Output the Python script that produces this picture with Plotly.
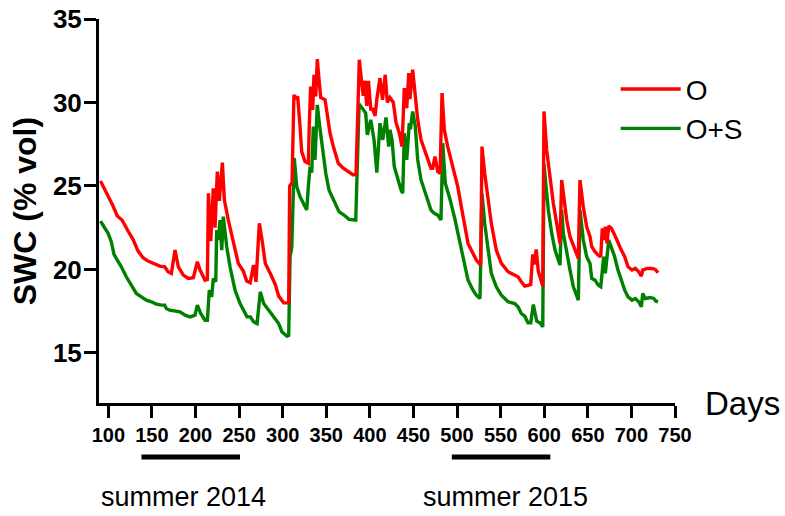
import plotly.graph_objects as go

# ---- data ----
o_days = [91, 94, 99.7, 105.4, 110.3, 115.7, 122.6, 128.3, 134.1, 139.8, 145.5, 151.3, 159, 164.7, 168.5, 172.3,
          174.5, 176.5, 180.3, 186, 191.8, 197.5, 202.1, 205.2, 210.9, 213.6, 214.8, 217.5, 220.4, 222.4, 225,
          227.3, 230.8, 233.1, 237.6, 243.4, 249.1, 254.8, 258.7, 262.7, 266.5, 269.4, 273.2, 276.3, 280.1, 285.8,
          291.5, 295.4, 301.2, 306.9, 308.0, 310.7, 312.9, 315.0, 317.2, 319.9, 321.8, 325.6, 329.4, 330.5, 332.1,
          334.4, 335.9, 337.9, 339.7, 341.7, 343.6, 348.6, 354.3, 358.1, 363.8, 369.5, 375.3, 381.0, 384.1, 385.6,
          387.9, 390.6, 392.5, 394.4, 396.4, 398.4, 401.0, 403.3, 406.0, 408.0, 411.6, 414.5, 417.6, 420.0, 423.0,
          426.9, 430.0, 433.8, 436.9, 439.5, 442.3, 444.6, 446.0, 449.1, 452.1, 454.9, 458.7, 462.5, 466.3, 470.1,
          472.1, 474.7, 477.8, 480.5, 482.8, 485.4, 489.3, 493.1, 496.9, 500.8, 504.9, 508.8, 512.6, 518.3, 522.1,
          527.1, 528.6, 531.7, 535.5, 539.3, 545.0, 550.8, 558.5, 566.1, 569.9, 573.7, 577.6, 581.4, 584.5, 586.8,
          588.3, 590.8, 593.2, 598.3, 599.7, 602.8, 606.6, 610.4, 614.3, 618.1, 620.0, 622.7, 625.8, 629.6, 635.3,
          639.1, 641.0, 644.8, 648.7, 652.5, 654.5, 658.2, 662.0, 664.8, 666.6, 668.2, 670.1, 672.0, 674.0, 677.0,
          680.8, 684.6, 688.4, 692.3, 696.1, 700.7, 704.5, 708.4, 711.4, 713.0, 717.9, 723.6, 727.4, 730.5]
o_swc = [25.3, 25.0, 24.4, 23.8, 23.2, 22.96, 22.3, 21.8, 21.1, 20.7, 20.5, 20.36, 20.2, 20.16, 19.86, 19.76,
         20.4, 21.16, 20.16, 19.66, 19.46, 19.5, 20.46, 19.96, 19.36, 19.4, 24.56, 21.7, 24.86, 22.5, 25.86,
         24.1, 26.4, 24.16, 22.96, 21.56, 20.36, 19.9, 19.3, 19.2, 20.26, 19.26, 22.76, 21.76, 20.36, 19.76,
         19.1, 18.4, 18.0, 18.0, 25.0, 25.2, 30.46, 30.2, 30.36, 28.56, 27.06, 26.46, 26.36, 28.66, 30.96,
         29.56, 31.66, 30.36, 32.6, 31.36, 30.3, 30.16, 28.16, 27.36, 26.36, 26.06, 25.86, 25.66, 25.7, 28.6,
         32.56, 31.2, 30.4, 31.3, 29.8, 31.3, 29.6, 29.6, 29.2, 30.2, 31.46, 30.16, 31.66, 30.0, 30.3,
         30.0, 28.8, 28.16, 27.36, 30.86, 29.66, 31.76, 30.2, 31.96, 30.56, 28.96, 27.76, 27.16, 26.56, 26.06,
         26.06, 26.76, 25.86, 25.76, 30.56, 28.36, 27.36, 26.56, 25.76, 24.96, 23.76, 22.56, 21.56, 20.96, 20.56,
         20.26, 27.36, 25.76, 24.16, 22.76, 21.16, 20.36, 19.86, 19.66, 19.56, 19.26, 19.0, 19.05, 19.1, 20.9,
         20.3, 21.2, 19.9, 19.0, 29.46, 27.16, 25.36, 23.96, 22.76, 21.56, 25.36, 24.16, 22.96, 21.96, 21.16,
         20.66, 25.36, 23.76, 22.56, 21.96, 21.36, 21.06, 20.86, 20.76, 22.46, 21.76, 22.56, 21.56, 22.6, 22.46,
         22.06, 21.56, 21.16, 20.76, 20.16, 19.96, 20.06, 19.86, 19.6, 19.96, 20.06, 20.06, 20.0, 19.8]

os_days = [91, 94, 99.7, 103.4, 106.5, 110.3, 114.9, 120.6, 126.4, 132.1, 137.9, 143.6, 149.3, 155.1, 160.8,
           164.7, 166.5, 170.4, 182.2, 188.0, 193.7, 199.4, 202.1, 206.0, 210.9, 213.6, 215.8, 218.6, 220.4,
           223.2, 224.3, 226.2, 228.1, 230.1, 231.9, 235.8, 239.6, 245.3, 251.1, 254.8, 259.1, 262.9, 266.8,
           270.6, 274.3, 278.2, 284.0, 289.7, 295.4, 299.2, 305.0, 306.9, 308.5, 310.4, 313.3, 316.1, 319.9,
           323.7, 327.6, 329.4, 331.4, 333.3, 335.1, 337.1, 339.7, 342.0, 345.5, 349.4, 353.1, 356.9, 360.8,
           364.6, 370.3, 376.1, 383.8, 385.6, 387.6, 391.3, 395.2, 397.1, 401.0, 404.8, 408.0, 411.6, 414.8,
           418.5, 421.6, 423.1, 425.4, 428.0, 431.9, 435.7, 437.7, 439.5, 442.3, 445.2, 446.5, 449.1, 452.1,
           454.9, 458.7, 462.5, 466.3, 470.1, 473.9, 477.8, 481.6, 483.6, 486.5, 491.1, 496.9, 500.8, 504.9,
           508.8, 512.6, 518.3, 522.1, 526.3, 528.6, 531.7, 535.5, 539.3, 545.0, 550.8, 558.5, 566.1, 569.9,
           573.7, 577.6, 581.4, 584.5, 587.5, 591.4, 595.2, 598.3, 599.7, 602.0, 604.7, 608.6, 612.4, 618.1,
           620.0, 621.9, 625.8, 629.6, 633.4, 639.1, 641.0, 644.8, 648.7, 652.5, 654.5, 658.2, 662.0, 664.8,
           668.2, 670.1, 674.0, 677.0, 680.8, 684.6, 688.4, 692.3, 696.1, 700.7, 704.5, 708.4, 711.4, 713.0,
           716.0, 721.7, 725.6, 728.2, 730.5]
os_swc = [22.9, 22.66, 22.16, 21.66, 20.9, 20.56, 20.16, 19.56, 19.06, 18.56, 18.36, 18.16, 18.06, 17.92, 17.86,
          17.86, 17.66, 17.56, 17.46, 17.26, 17.16, 17.26, 17.86, 17.36, 16.96, 16.96, 18.76, 18.36, 19.46,
          19.26, 22.36, 21.76, 22.96, 21.16, 23.16, 21.36, 20.16, 18.76, 17.96, 17.6, 17.16, 17.16, 16.86,
          16.76, 18.66, 17.96, 17.56, 17.16, 16.76, 16.26, 16.0, 16.05, 20.8, 21.3, 26.66, 24.96, 24.36,
          23.96, 23.56, 24.96, 26.16, 25.8, 28.56, 26.56, 29.86, 28.76, 27.16, 25.76, 24.76, 24.36, 23.86,
          23.46, 23.26, 23.0, 22.96, 25.9, 29.9, 29.66, 29.36, 28.06, 28.96, 27.76, 25.8, 28.76, 27.76,
          29.1, 27.36, 28.36, 27.76, 26.16, 25.36, 24.76, 24.56, 28.16, 26.56, 28.76, 28.4, 29.46, 28.56,
          26.56, 25.36, 24.76, 24.16, 23.56, 23.36, 23.26, 22.96, 27.56, 25.16, 24.36, 23.16, 22.16, 21.16,
          20.16, 19.36, 18.76, 18.46, 18.26, 24.56, 22.76, 21.16, 19.76, 18.96, 18.46, 18.06, 17.96, 17.76,
          17.36, 17.2, 16.8, 16.8, 17.9, 16.9, 16.8, 16.56, 26.3, 25.0, 23.56, 22.16, 21.16, 20.26,
          23.56, 22.16, 20.96, 19.96, 18.96, 18.16, 23.56, 21.76, 20.76, 20.36, 19.46, 19.36, 19.06, 18.96,
          20.76, 19.76, 21.76, 21.36, 20.76, 19.96, 19.36, 18.76, 18.36, 18.16, 18.26, 18.06, 17.76, 18.56,
          18.26, 18.32, 18.26, 18.1, 18.06]

x_ticks = [100, 150, 200, 250, 300, 350, 400, 450, 500, 550, 600, 650, 700, 750]
y_ticks = [15, 20, 25, 30, 35]
summer_labels = ["summer 2014", "summer 2015"]
summer_start = [138, 494]
summer_end = [251, 607]
summer_label_day = [186, 555]

FONT = "Liberation Sans, Arial, sans-serif"
RED = "#FF0000"
GREEN = "#008000"

fig = go.Figure()
fig.add_trace(go.Scatter(x=os_days, y=os_swc, mode="lines", name="O+S",
                         line=dict(color=GREEN, width=3.4), legendrank=2))
fig.add_trace(go.Scatter(x=o_days, y=o_swc, mode="lines", name="O",
                         line=dict(color=RED, width=3.4), legendrank=1))

axis_common = dict(showgrid=False, zeroline=False, showline=True, linecolor="black", linewidth=3,
                   ticks="outside", tickcolor="black", tickwidth=3, ticklen=12, automargin=False)
fig.update_xaxes(range=[89.3, 750], tickvals=x_ticks, ticktext=[str(v) for v in x_ticks],
                 tickfont=dict(family=FONT, size=20, color="black", weight="bold"), **axis_common)
fig.update_yaxes(range=[12, 35], tickvals=y_ticks, ticktext=[str(v) for v in y_ticks],
                 ticklabelstandoff=-3,
                 tickfont=dict(family=FONT, size=26, color="black", weight="bold"), **axis_common)

shapes = []
for s, e in zip(summer_start, summer_end):
    shapes.append(dict(type="line", xref="x", yref="paper", x0=s, x1=e, y0=-0.1406, y1=-0.1406,
                       line=dict(color="black", width=5)))

annotations = [
    dict(text="SWC (% vol)", xref="paper", yref="paper", x=-0.128, y=0.5, textangle=-90,
         showarrow=False, xanchor="center", yanchor="middle",
         font=dict(family=FONT, size=32, color="black", weight="bold")),
    dict(text="Days", xref="paper", yref="paper", x=1.0486, y=0, showarrow=False,
         xanchor="left", yanchor="middle", font=dict(family=FONT, size=33, color="black")),
]
for lab, d in zip(summer_labels, summer_label_day):
    annotations.append(dict(text=lab, xref="x", yref="paper", x=d, y=-0.244, showarrow=False,
                            xanchor="center", yanchor="middle",
                            font=dict(family=FONT, size=27, color="black")))

fig.update_layout(
    template="none",
    width=785, height=516,
    margin=dict(l=99, r=110, t=19, b=113, pad=0, autoexpand=False),
    paper_bgcolor="white", plot_bgcolor="white",
    showlegend=True,
    legend=dict(x=0.897, y=0.882, xanchor="left", yanchor="top", bgcolor="rgba(0,0,0,0)",
                itemwidth=60,
                font=dict(family=FONT, size=28, color="black"), traceorder="normal"),
    shapes=shapes, annotations=annotations,
)

fig.write_html("out.html", config={"displayModeBar": False},
               post_script="document.body.style.margin='0';document.body.style.overflow='hidden';")
